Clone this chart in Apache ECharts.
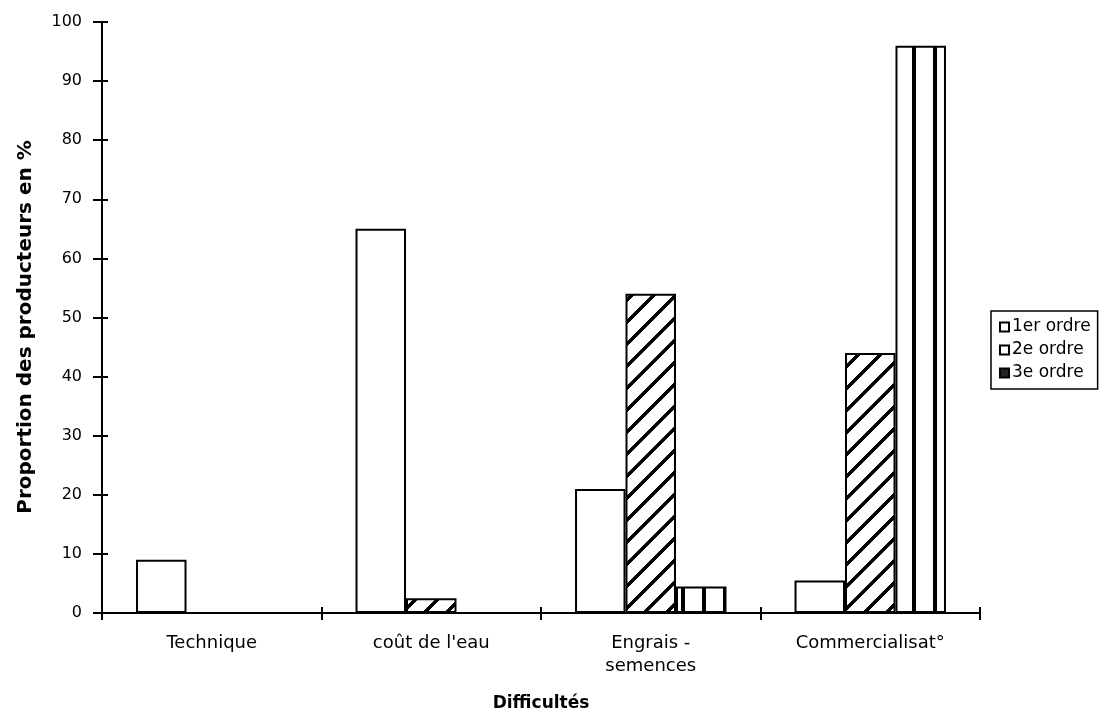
<!DOCTYPE html>
<html>
<head>
<meta charset="utf-8">
<script src="https://cdn.jsdelivr.net/npm/echarts@6/dist/echarts.min.js"></script>
<style>
html,body{margin:0;padding:0;background:#fff;}
#chart{width:1109px;height:717px;}
</style>
</head>
<body>
<div id="chart"></div>
<script>
const categories = ['Technique', "coût de l'eau", 'Engrais -\nsemences', 'Commercialisat°'];
const seriesNames = ['1er ordre', '2e ordre', '3e ordre'];
const ordre1 = [9, 65, 21, 5.5];
const ordre2 = [0, 2.5, 54, 44];
const ordre3 = [0, 0, 4.5, 96];
const yMin = 0, yMax = 100, yInterval = 10;

function hatchPattern() {
  const s = 22, w = 5;
  const c = document.createElement('canvas');
  c.width = s; c.height = s;
  const g = c.getContext('2d');
  const img = g.createImageData(s, s);
  for (let y = 0; y < s; y++) {
    for (let x = 0; x < s; x++) {
      const on = ((x + y) % s) < w;
      const v = on ? 0 : 255;
      const i = (y * s + x) * 4;
      img.data[i] = v; img.data[i + 1] = v; img.data[i + 2] = v; img.data[i + 3] = 255;
    }
  }
  g.putImageData(img, 0, 0);
  return c;
}
function stripePattern() {
  const s = 21;
  const c = document.createElement('canvas');
  c.width = s; c.height = 10;
  const g = c.getContext('2d');
  g.fillStyle = '#fff'; g.fillRect(0, 0, s, 10);
  g.fillStyle = '#000'; g.fillRect(9, 0, 4, 10);
  return c;
}

const font = '"DejaVu Sans", Verdana, sans-serif';
const chart = echarts.init(document.getElementById('chart'), null, {renderer: 'canvas'});
const border = {borderColor: '#000', borderWidth: 2};

chart.setOption({
  backgroundColor: '#fff',
  animation: false,
  textStyle: {fontFamily: font, color: '#000'},
  grid: {left: 102, right: 129, top: 22, bottom: 102, containLabel: false},
  legend: {
    orient: 'vertical', left: 991, top: 311,
    padding: [6, 7, 6, 8],
    borderColor: '#000', borderWidth: 1.5,
    itemWidth: 9, itemHeight: 9, itemGap: 3,
    textStyle: {fontFamily: font, fontSize: 17, color: '#000', lineHeight: 20, padding: [0, 0, 0, -2]},
    data: [
      {name: seriesNames[0], icon: 'rect', itemStyle: {color: '#fff', borderColor: '#000', borderWidth: 2}},
      {name: seriesNames[1], icon: 'rect', itemStyle: {color: '#fff', borderColor: '#000', borderWidth: 2}},
      {name: seriesNames[2], icon: 'rect', itemStyle: {color: '#222', borderColor: '#000', borderWidth: 2}}
    ]
  },
  xAxis: [{
    type: 'category', data: categories,
    axisLine: {lineStyle: {color: '#000', width: 2}},
    axisTick: {show: true, length: 7, lineStyle: {color: '#000', width: 2}},
    axisLabel: {fontFamily: font, fontSize: 18, color: '#000', margin: 19, lineHeight: 23},
    name: 'Difficultés', nameLocation: 'middle', nameGap: 82,
    nameTextStyle: {fontFamily: font, fontSize: 17, fontWeight: 'bold', color: '#000'}
  }, {
    type: 'category', data: categories, position: 'bottom',
    axisLine: {show: false},
    axisTick: {show: true, inside: true, length: 6, lineStyle: {color: '#000', width: 2}},
    axisLabel: {show: false}
  }],
  yAxis: [{
    type: 'value', min: yMin, max: yMax, interval: yInterval,
    axisLine: {show: true, lineStyle: {color: '#000', width: 2}},
    axisTick: {show: true, length: 9, lineStyle: {color: '#000', width: 2}},
    splitLine: {show: false},
    axisLabel: {fontFamily: font, fontSize: 16, color: '#000', margin: 20},
    name: 'Proportion des producteurs en %', nameLocation: 'middle', nameGap: 66,
    nameTextStyle: {fontFamily: font, fontSize: 20, fontWeight: 'bold', color: '#000', padding: [0, 19, 0, 0]}
  }, {
    type: 'value', min: yMin, max: yMax, interval: yInterval, position: 'left', offset: 0,
    axisLine: {show: false},
    axisTick: {show: true, inside: true, length: 6, lineStyle: {color: '#000', width: 2}},
    axisLabel: {show: false}, splitLine: {show: false}
  }],
  series: [
    {name: seriesNames[0], type: 'bar', data: ordre1, barGap: '0%', barCategoryGap: '31%',
     itemStyle: Object.assign({color: '#fff'}, border)},
    {name: seriesNames[1], type: 'bar', data: ordre2, barGap: '0%', barCategoryGap: '31%',
     itemStyle: Object.assign({color: {image: hatchPattern(), repeat: 'repeat'}}, border)},
    {name: seriesNames[2], type: 'bar', data: ordre3, barGap: '0%', barCategoryGap: '31%',
     itemStyle: Object.assign({color: {image: stripePattern(), repeat: 'repeat'}}, border)}
  ]
});
</script>
</body>
</html>
